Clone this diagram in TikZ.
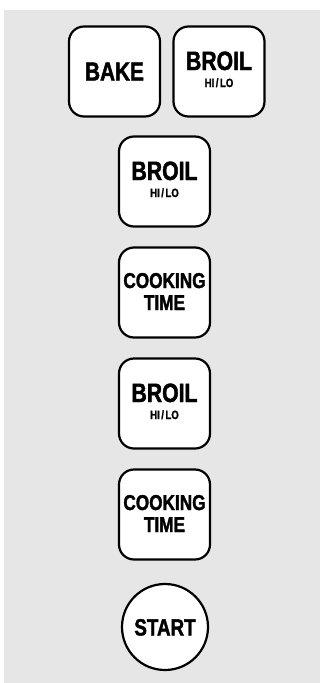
\documentclass[tikz,border=0pt]{standalone}
\usepackage{fontspec}
\newfontfamily\keyfont[FakeStretch=0.8, BoldFeatures={FakeBold=1.6}]{Liberation Sans}
\usetikzlibrary{calc}
\definecolor{panel}{RGB}{230,230,230}
\begin{document}
\begin{tikzpicture}[x=1pt,y=-1pt,
  key/.style={draw, line width=2.2pt, fill=white, rounded corners=15pt, minimum width=91pt, minimum height=90pt, inner sep=0pt},
  roundkey/.style={draw, line width=2.2pt, fill=white, circle, minimum size=86pt, inner sep=0pt},
  big/.style={anchor=base, inner sep=0pt, font=\keyfont\bfseries\fontsize{26.5}{26.5}\selectfont},
  mid/.style={anchor=base, inner sep=0pt, font=\keyfont\bfseries\fontsize{21.5}{21.5}\selectfont},
  small/.style={anchor=base, inner sep=0pt, font=\keyfont\bfseries\fontsize{12}{12}\selectfont}]
\useasboundingbox (0,0) rectangle (320,683);
\fill[panel] (4,10) rectangle (320,683);
% keys
\node[key] (bake) at (114.5,71.5) {};
\node[key] (broilA) at (219,71.5) {};
\node[key] (broilB) at (164.5,181.5) {};
\node[key] (cookA) at (164.5,292.5) {};
\node[key] (broilC) at (164.5,403.5) {};
\node[key] (cookB) at (164.5,514.5) {};
\node[roundkey] (start) at (165,627) {};
% labels
\node[big, font=\keyfont\bfseries\fontsize{26}{26}\selectfont] (bakeT) at ($(bake.center)+(0,9)$) {BAKE};
\node[big] (broilAT) at ($(broilA.center)+(0,-1.5)$) {BROIL};
\node[small] (broilAS) at ($(broilA.center)+(0,15.5)$) {HI{\kern1.5pt}/{\kern1.5pt}LO};
\node[big] (broilBT) at ($(broilB.center)+(0,-1.5)$) {BROIL};
\node[small] (broilBS) at ($(broilB.center)+(0,15.5)$) {HI{\kern1.5pt}/{\kern1.5pt}LO};
\node[mid] (cookAT) at ($(cookA.center)+(0,-4.5)$) {COOKING};
\node[mid] (cookAS) at ($(cookA.center)+(0,17.5)$) {TIME};
\node[big] (broilCT) at ($(broilC.center)+(0,-1.5)$) {BROIL};
\node[small] (broilCS) at ($(broilC.center)+(0,15.5)$) {HI{\kern1.5pt}/{\kern1.5pt}LO};
\node[mid] (cookBT) at ($(cookB.center)+(0,-4.5)$) {COOKING};
\node[mid] (cookBS) at ($(cookB.center)+(0,17.5)$) {TIME};
\node[anchor=base, inner sep=0pt, font=\keyfont\bfseries\fontsize{23.5}{23.5}\selectfont] (startT) at ($(start.center)+(0,8.5)$) {START};
\end{tikzpicture}
\end{document}
